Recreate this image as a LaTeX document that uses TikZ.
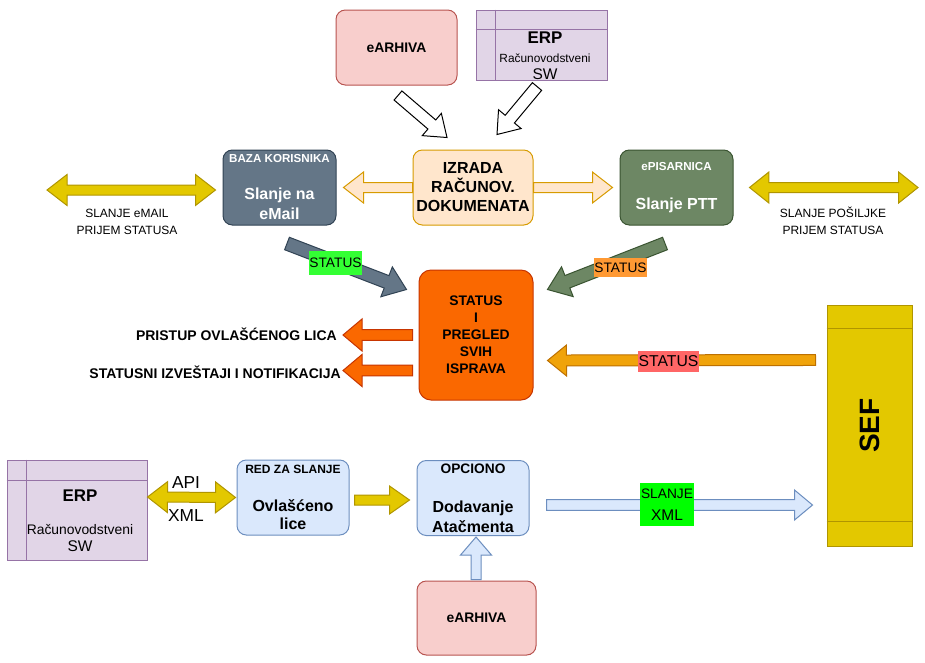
\documentclass[tikz,border=0pt]{standalone}
\usepackage{fontspec}
\setmainfont{Liberation Sans}
\usepackage{tikz}
\usetikzlibrary{calc,positioning}

\definecolor{pinkFill}{HTML}{F8CECC}
\definecolor{pinkLine}{HTML}{B85450}
\definecolor{lilacFill}{HTML}{E1D5E7}
\definecolor{lilacLine}{HTML}{9673A6}
\definecolor{slateFill}{HTML}{647687}
\definecolor{slateLine}{HTML}{314354}
\definecolor{peachFill}{HTML}{FFE6CC}
\definecolor{peachLine}{HTML}{D79B00}
\definecolor{oliveFill}{HTML}{6D8764}
\definecolor{oliveLine}{HTML}{3A5431}
\definecolor{goldFill}{HTML}{E3C800}
\definecolor{goldLine}{HTML}{B09500}
\definecolor{flameFill}{HTML}{FA6800}
\definecolor{flameLine}{HTML}{C73500}
\definecolor{amberFill}{HTML}{F0A30A}
\definecolor{amberLine}{HTML}{BD7000}
\definecolor{skyFill}{HTML}{DAE8FC}
\definecolor{skyLine}{HTML}{6C8EBF}
\definecolor{tagLime}{HTML}{33FF33}
\definecolor{tagOrange}{HTML}{FF9933}
\definecolor{tagRed}{HTML}{FF6666}
\definecolor{tagGreen}{HTML}{00FF00}

% block arrow: [style]{from}{to}{half shaft}{half head}{head length}
\newcommand\blockarrow[6][]{%
  \coordinate (arS) at #2;
  \coordinate (arT) at #3;
  \coordinate (arH) at ($(arT)!#6!(arS)$);
  \draw[#1] ($(arS)!#4!90:(arT)$) -- ($(arH)!#4!-90:(arS)$) -- ($(arH)!#5!-90:(arS)$)
    -- (arT) -- ($(arH)!#5!90:(arS)$) -- ($(arH)!#4!90:(arS)$)
    -- ($(arS)!#4!-90:(arT)$) -- cycle;
}
\newcommand\dblarrow[6][]{%
  \coordinate (arS) at #2;
  \coordinate (arT) at #3;
  \coordinate (arH) at ($(arT)!#6!(arS)$);
  \coordinate (arG) at ($(arS)!#6!(arT)$);
  \draw[#1] (arS) -- ($(arG)!#5!90:(arT)$) -- ($(arG)!#4!90:(arT)$)
    -- ($(arH)!#4!-90:(arS)$) -- ($(arH)!#5!-90:(arS)$) -- (arT)
    -- ($(arH)!#5!90:(arS)$) -- ($(arH)!#4!90:(arS)$)
    -- ($(arG)!#4!-90:(arT)$) -- ($(arG)!#5!-90:(arT)$) -- cycle;
}

\begin{document}
\begin{tikzpicture}[
    x=0.75pt, y=-0.75pt,
    box/.style={rectangle, draw, rounded corners=7pt, line width=0.75pt, align=center, inner sep=0pt, font=\bfseries\fontsize{12}{15}\selectfont},
    storage/.style={rectangle, draw=lilacLine, fill=lilacFill, line width=0.75pt, inner sep=0pt},
    txt/.style={inner sep=0pt, align=center},
    tag/.style={inner xsep=0.5pt, inner ysep=0pt, font=\fontsize{10.3}{12}\selectfont},
    arr/.style={line width=0.75pt, line join=miter},
    hollow/.style={arr, fill=white, draw=black},
    peach/.style={arr, fill=peachFill, draw=peachLine},
    gold/.style={arr, fill=goldFill, draw=goldLine},
    slate/.style={arr, fill=slateFill, draw=slateLine},
    olive/.style={arr, fill=oliveFill, draw=oliveLine},
    flame/.style={arr, fill=flameFill, draw=flameLine},
    amber/.style={arr, fill=amberFill, draw=amberLine},
    sky/.style={arr, fill=skyFill, draw=skyLine}
  ]
    \useasboundingbox (0,0) rectangle (925,662);
    \fill[white] (0,0) rectangle (925,662);

    \node[box, fill=pinkFill, draw=pinkLine, minimum width=90.75pt, minimum height=56.25pt, font=\bfseries\fontsize{10.4}{12}\selectfont] (arhivaTop) at (396.5,47.5) {eARHIVA};
    \node[storage, minimum width=98.25pt, minimum height=52.5pt] (erpTop) at (541.5,45) {};
    \draw[lilacLine, line width=0.75pt] ($(erpTop.north west)+(20,0)$) -- ($(erpTop.south west)+(20,0)$);
    \draw[lilacLine, line width=0.75pt] ($(erpTop.north west)+(0,20)$) -- ($(erpTop.north east)+(0,20)$);
    \node[txt, font=\fontsize{8.9}{12.75}\selectfont] (erpTopTxt) at (545,56) {{\bfseries\fontsize{12.7}{12.75}\selectfont ERP}\\[1.5pt]Računovodstveni\\{\fontsize{11.6}{12.75}\selectfont SW}};

    \node[box, fill=slateFill, draw=slateLine, text=white, minimum width=84.75pt, minimum height=56.25pt] (baza) at (279.5,187.5) {{\fontsize{8.7}{15}\selectfont BAZA KORISNIKA}\\[12.75pt]Slanje na\\eMail};
    \node[box, fill=peachFill, draw=peachLine, minimum width=90pt, minimum height=56.25pt, font=\bfseries\fontsize{12}{14.25}\selectfont] (izrada) at (473,187.5) {IZRADA\\RAČUNOV.\\DOKUMENATA};
    \node[box, fill=oliveFill, draw=oliveLine, text=white, minimum width=84.75pt, minimum height=56.25pt] (episarnica) at (676.5,187.5) {{\fontsize{8.7}{15}\selectfont ePISARNICA}\\[14.25pt]Slanje PTT};
    \coordinate (mailEnd) at (47,190);
    \coordinate (pttEnd) at (918,187.5);
    \node[txt, font=\fontsize{9}{12.75}\selectfont] (mailTxt) at (127,221.5) {SLANJE eMAIL\\PRIJEM STATUSA};
    \node[txt, font=\fontsize{9}{12.75}\selectfont] (pttTxt) at (833,220.5) {SLANJE POŠILJKE\\PRIJEM STATUSA};

    \node[box, fill=flameFill, draw=flameLine, rounded corners=9pt, minimum width=85.5pt, minimum height=97.5pt, font=\bfseries\fontsize{10.4}{12.75}\selectfont] (status) at (476,335) {STATUS\\I\\PREGLED\\SVIH\\ISPRAVA};
    \node[txt, anchor=base east, font=\bfseries\fontsize{10.5}{12}\selectfont] (pristup) at (337,340) {PRISTUP OVLAŠĆENOG LICA};
    \node[txt, anchor=base east, font=\bfseries\fontsize{10.5}{12}\selectfont] (izvestaji) at (341,378) {STATUSNI IZVEŠTAJI I NOTIFIKACIJA};

    \node[rectangle, draw=goldLine, fill=goldFill, line width=0.75pt, minimum width=63.75pt, minimum height=180.75pt] (sef) at (869.5,425.5) {};
    \draw[goldLine, line width=0.75pt] ($(sef.north west)+(0,24)$) -- ($(sef.north east)+(0,24)$);
    \draw[goldLine, line width=0.75pt] ($(sef.south west)+(0,-25)$) -- ($(sef.south east)+(0,-25)$);
    \node[rotate=90, font=\bfseries\fontsize{21}{21}\selectfont] (sefTxt) at (sef.center) {SEF};

    \node[storage, minimum width=105pt, minimum height=75pt] (erpBot) at (77,510) {};
    \draw[lilacLine, line width=0.75pt] ($(erpBot.north west)+(20,0)$) -- ($(erpBot.south west)+(20,0)$);
    \draw[lilacLine, line width=0.75pt] ($(erpBot.north west)+(0,21)$) -- ($(erpBot.north east)+(0,21)$);
    \node[txt, font=\fontsize{10.4}{12.75}\selectfont] (erpBotTxt) at (80,521) {{\bfseries\fontsize{12.7}{12.75}\selectfont ERP}\\[12pt]Računovodstveni\\{\fontsize{11.6}{12.75}\selectfont SW}};
    \node[box, fill=skyFill, draw=skyLine, minimum width=84pt, minimum height=56.25pt, font=\bfseries\fontsize{12}{13.5}\selectfont] (red) at (293,497.5) {{\fontsize{9}{13.5}\selectfont RED ZA SLANJE}\\[15pt]Ovlašćeno\\lice};
    \node[box, fill=skyFill, draw=skyLine, minimum width=84pt, minimum height=56.25pt] (opciono) at (473,498) {{\fontsize{10.3}{15}\selectfont OPCIONO}\\[14.25pt]Dodavanje\\Atačmenta};
    \node[box, fill=pinkFill, draw=pinkLine, minimum width=89.25pt, minimum height=55.5pt, font=\bfseries\fontsize{10.4}{12}\selectfont] (arhivaBot) at (476.5,618) {eARHIVA};
    \node[txt, font=\fontsize{13}{15}\selectfont] (api) at (186,482.5) {API};
    \node[txt, font=\fontsize{13}{15}\selectfont] (xml) at (186,515.5) {XML};

    \blockarrow[hollow]{($(arhivaTop.south)+(1.5,10)$)}{($(izrada.north)+(-26,-12)$)}{4.5pt}{11pt}{15pt}
    \blockarrow[hollow]{($(erpTop.south)+(-4.5,6)$)}{($(izrada.north)+(24,-15)$)}{4.5pt}{11pt}{15pt}
    \blockarrow[peach]{(izrada.west)}{($(baza.east)+(7,0)$)}{3.75pt}{11.6pt}{15pt}
    \blockarrow[peach]{(izrada.east)}{($(episarnica.west)+(-7,0)$)}{3.75pt}{11.6pt}{15pt}
    \dblarrow[gold]{(mailEnd)}{($(baza.west)+(-7,2.5)$)}{3.75pt}{11.6pt}{15pt}
    \dblarrow[gold]{($(episarnica.east)+(16,0)$)}{(pttEnd)}{3.75pt}{11.6pt}{14.5pt}
    \blockarrow[slate]{($(baza.south)+(7.5,18)$)}{($(status.north west)+(-12,20)$)}{5pt}{12pt}{16pt}
    \blockarrow[olive]{($(episarnica.south)+(-11.5,18)$)}{($(status.north east)+(14,20)$)}{5pt}{12pt}{16pt}
    \blockarrow[flame]{($(status.west)+(-6,0)$)}{($(pristup.base east)+(6,-5)$)}{4.1pt}{12pt}{14.25pt}
    \blockarrow[flame]{($(status.west)+(-6,35.5)$)}{($(izvestaji.base east)+(2,-7.5)$)}{4.1pt}{12pt}{14.25pt}
    \blockarrow[amber]{($(sef.north west)+(-11,55.5)$)}{($(status.east)+(14,25.5)$)}{4.1pt}{11.6pt}{14.25pt}
    \dblarrow[gold]{($(erpBot.east)+(0,-13)$)}{($(red.west)+(-1,0)$)}{3.75pt}{11.6pt}{15pt}
    \blockarrow[gold]{($(red.east)+(5,2.5)$)}{($(opciono.west)+(-7,2)$)}{3.75pt}{10.5pt}{15pt}
    \blockarrow[sky]{($(opciono.east)+(17,7)$)}{($(sef.west)+(-14,79.5)$)}{4pt}{11.25pt}{13.5pt}
    \blockarrow[sky]{($(arhivaBot.north)+(-0.5,-1)$)}{($(opciono.south)+(3,1)$)}{3.75pt}{11.6pt}{13.5pt}

    \node[tag, fill=tagLime, minimum height=18pt] (statusTagA) at (335.5,263) {STATUS};
    \node[tag, fill=tagOrange, minimum height=14.25pt] (statusTagB) at (620.5,267.5) {STATUS};
    \node[tag, fill=tagRed, minimum height=15.75pt, font=\fontsize{11.8}{14}\selectfont] (statusTagC) at (668.5,361.5) {STATUS};
    \node[tag, fill=tagGreen, align=center, minimum width=39pt, minimum height=32.25pt, font=\fontsize{10.3}{16.5}\selectfont] (slanjeTag) at (667,504.5) {SLANJE\\{\fontsize{11.6}{16.5}\selectfont XML}};
  \end{tikzpicture}
\end{document}
